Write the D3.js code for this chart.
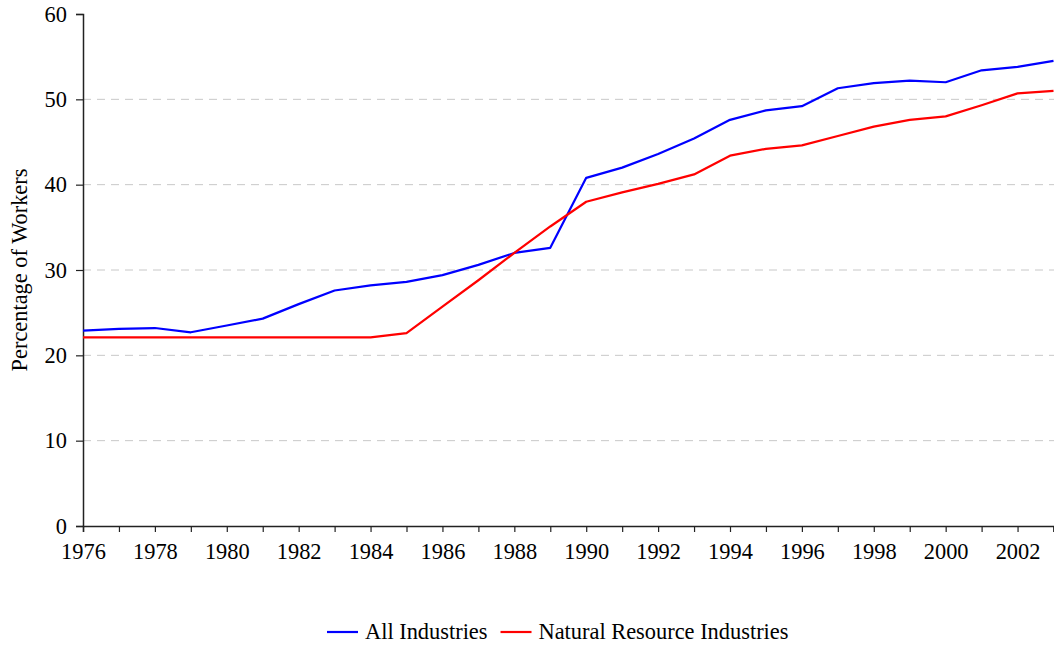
<!DOCTYPE html>
<html>
<head>
<meta charset="utf-8">
<script src="https://d3js.org/d3.v7.min.js"></script>
<style>
  body { margin: 0; background: #fff; }
  svg { font-family: "Liberation Serif", "Times New Roman", serif; }
</style>
</head>
<body>
<div id="chart"></div>
<script>
var years = d3.range(1976, 2004);
var allIndustries = [22.9, 23.1, 23.2, 22.7, 23.5, 24.3, 26.0, 27.6, 28.2, 28.6, 29.4, 30.6, 32.0, 32.6,
  40.8, 42.0, 43.6, 45.4, 47.6, 48.7, 49.2, 51.3, 51.9, 52.2, 52.0, 53.4, 53.8, 54.5];
var naturalResource = [22.1, 22.1, 22.1, 22.1, 22.1, 22.1, 22.1, 22.1, 22.1, 22.6, 25.7, 28.8, 32.0, 35.1,
  38.0, 39.1, 40.1, 41.2, 43.4, 44.2, 44.6, 45.7, 46.8, 47.6, 48.0, 49.3, 50.7, 51.0];
var yTicks = [0, 10, 20, 30, 40, 50, 60];
var seriesNames = ['All Industries', 'Natural Resource Industries'];
var seriesColors = ['#0000ff', '#ff0000'];

var width = 1054, height = 648;
var margin = { left: 83, right: 0, top: 14, bottom: 122 };
var fontSize = '22.4px';
var serif = '"Liberation Serif", "Times New Roman", serif';

var svg = d3.select('#chart').append('svg')
  .attr('width', width)
  .attr('height', height);

var x = d3.scaleLinear().domain([1976, 2003]).range([margin.left, width - margin.right - 0.5]);
var y = d3.scaleLinear().domain([0, 60]).range([height - margin.bottom, margin.top]);

// grid
svg.append('g').selectAll('line')
  .data(yTicks.filter(function(d) { return d > 0 && d < 60; }))
  .enter().append('line')
  .attr('x1', margin.left).attr('x2', width)
  .attr('y1', function(d) { return y(d); }).attr('y2', function(d) { return y(d); })
  .attr('stroke', '#c8c8c8')
  .attr('stroke-dasharray', '8,6');

var yAxis = svg.append('g')
  .attr('transform', 'translate(' + margin.left + ',0)')
  .call(d3.axisLeft(y).tickValues(yTicks).tickSize(7).tickPadding(9));

var xAxis = svg.append('g')
  .attr('transform', 'translate(0,' + y(0) + ')')
  .call(d3.axisBottom(x).tickValues(years).tickSize(6).tickPadding(11)
    .tickFormat(function(d) { return d % 2 === 0 ? d : ''; }));

[yAxis, xAxis].forEach(function(a) {
  a.attr('font-family', serif).attr('font-size', fontSize);
  a.select('.domain').attr('stroke', '#222').attr('stroke-width', 1.5);
  a.selectAll('.tick line').attr('stroke', '#222').attr('stroke-width', 1.2);
  a.selectAll('text').attr('fill', '#000');
});

svg.append('text')
  .attr('transform', 'translate(27,' + (y(30)) + ') rotate(-90)')
  .attr('text-anchor', 'middle')
  .attr('font-family', serif)
  .attr('font-size', fontSize)
  .text('Percentage of Workers');

var line = d3.line()
  .x(function(d, i) { return x(years[i]); })
  .y(function(d) { return y(d); });

[allIndustries, naturalResource].forEach(function(s, i) {
  svg.append('path')
    .datum(s)
    .attr('fill', 'none')
    .attr('stroke', seriesColors[i])
    .attr('stroke-width', 2.2)
    .attr('stroke-linejoin', 'round')
    .attr('d', line);
});

// legend
var legend = svg.append('g').attr('transform', 'translate(327,632)');
var lx = 0;
seriesNames.forEach(function(n, i) {
  legend.append('line')
    .attr('x1', lx).attr('x2', lx + 31).attr('y1', 0).attr('y2', 0)
    .attr('stroke', seriesColors[i]).attr('stroke-width', 2.2);
  var t = legend.append('text')
    .attr('x', lx + 38).attr('y', 7)
    .attr('font-family', serif)
    .attr('font-size', fontSize)
    .text(n);
  lx += 38 + t.node().getComputedTextLength() + 13;
});
</script>
</body>
</html>
